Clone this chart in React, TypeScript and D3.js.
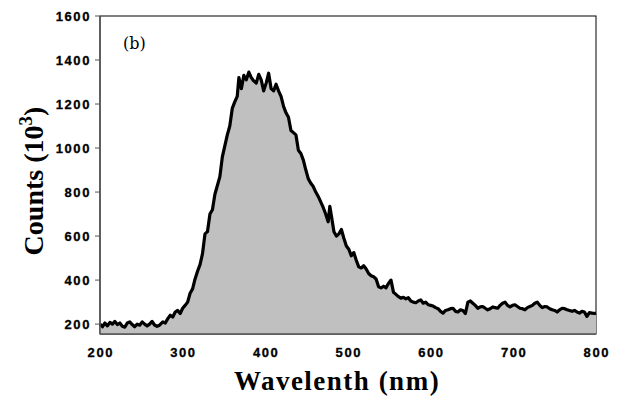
import * as d3 from 'd3';
import React from 'react';

// spectrum
const wavelength = [
  200, 203, 206, 209, 212, 215, 218, 221, 224, 227,
  230, 233, 236, 239, 242, 245, 248, 251, 254, 257,
  260, 263, 266, 269, 272, 276, 279, 282, 285, 288,
  291, 294, 297, 300, 303, 306, 309, 312, 315, 318,
  321, 324, 327, 330, 333, 336, 339, 342, 345, 348,
  351, 354, 357, 360, 363, 366, 368, 371, 374, 377,
  380, 383, 386, 389, 392, 395, 398, 401, 404, 407,
  410, 413, 416, 419, 422, 425, 428, 431, 434, 437,
  440, 443, 446, 449, 452, 455, 458, 461, 464, 467,
  470, 473, 476, 478, 480, 483, 486, 489, 492, 495,
  498, 501, 504, 507, 510, 513, 516, 519, 522, 525,
  528, 531, 534, 537, 540, 543, 546, 549, 552, 555,
  558, 561, 564, 567, 570, 573, 576, 579, 582, 585,
  588, 591, 594, 597, 600, 603, 606, 609, 612, 615,
  618, 621, 624, 627, 630, 633, 636, 639, 642, 645,
  648, 651, 654, 657, 660, 663, 666, 669, 672, 675,
  678, 681, 684, 687, 690, 693, 696, 699, 702, 705,
  708, 711, 714, 717, 720, 723, 726, 729, 732, 735,
  738, 741, 744, 747, 750, 753, 756, 759, 762, 765,
  768, 771, 774, 777, 780, 783, 786, 789, 792, 795,
  798, 800,
];

const counts = [
  200, 188, 205, 192, 208, 200, 212, 198, 205, 190,
  186, 205, 210, 198, 188, 200, 195, 210, 200, 192,
  200, 212, 196, 190, 195, 210, 205, 225, 240, 232,
  255, 262, 248, 272, 285, 300, 340, 360, 405, 440,
  470, 520, 610, 620, 700, 720, 790, 830, 870, 960,
  1010, 1060, 1100, 1180, 1210, 1235, 1320, 1270, 1330, 1310,
  1345, 1320, 1305, 1295, 1335, 1310, 1260, 1295, 1340, 1270,
  1260, 1290, 1260, 1235, 1190, 1160, 1140, 1080, 1070, 1060,
  990, 975, 945, 900, 860, 840, 825, 800, 780, 755,
  730, 700, 665, 735, 690, 620, 600, 610, 630, 590,
  555, 540, 510, 525, 490, 460, 455, 465, 450, 430,
  420, 415, 405, 370, 365, 372, 365, 385, 400, 345,
  335, 325, 318, 322, 315, 320, 305, 300, 297, 305,
  310, 295, 300, 288, 285, 282, 275, 270, 258, 250,
  262, 265, 270, 272, 258, 255, 265, 262, 248, 300,
  305, 295, 285, 272, 278, 280, 272, 265, 270, 278,
  275, 272, 285, 295, 300, 285, 278, 285, 288, 280,
  272, 270, 265, 275, 280, 285, 295, 300, 285, 275,
  280, 278, 270, 265, 262, 255, 265, 272, 270, 265,
  262, 258, 262, 255, 250, 258, 255, 235, 252, 250,
  248, 250,
];

const xTicks = [200, 300, 400, 500, 600, 700, 800];
const yTicks = [200, 400, 600, 800, 1000, 1200, 1400, 1600];

const App = () => {
  const width = 622;
  const height = 398;
  const margin = { top: 16, right: 26, bottom: 64, left: 100 };
  const yMin = 155;

  const x = d3.scaleLinear().domain([200, 800]).range([margin.left, width - margin.right]);
  const y = d3.scaleLinear().domain([yMin, 1600]).range([height - margin.bottom, margin.top]);

  const pts = wavelength.map((w, i) => [w, counts[i]] as [number, number]);

  const area = d3.area<[number, number]>()
    .x(d => x(d[0]))
    .y0(y(yMin))
    .y1(d => y(d[1]));
  const line = d3.line<[number, number]>()
    .x(d => x(d[0]))
    .y(d => y(d[1]));

  const left = margin.left;
  const right = width - margin.right;
  const top = margin.top;
  const bottom = height - margin.bottom;

  return (
    <div>
      <svg width={width} height={height} style={{ position: 'absolute', left: 0, top: 0, background: '#fff' }}>
        <rect x={left} y={top} width={right - left} height={bottom - top} fill="#fff" stroke="#000" strokeWidth={1} />
        <path d={area(pts) || ''} fill="#c0c0c0" />
        <path d={line(pts) || ''} fill="none" stroke="#000" strokeWidth={3.2} strokeLinejoin="round" />

        {/* axes */}
        <line x1={left} x2={left} y1={top} y2={bottom} stroke="#555" strokeWidth={1.5} />
        <line x1={left} x2={right} y1={bottom} y2={bottom} stroke="#555" strokeWidth={1.5} />

        {yTicks.map(t => (
          <g key={t}>
            <line x1={left - 5} x2={left} y1={y(t)} y2={y(t)} stroke="#555" strokeWidth={1} />
            <text x={left - 9} y={y(t)} dy="0.36em" textAnchor="end"
              fontFamily="'Liberation Sans', Arial, sans-serif" fontWeight="bold" fontSize={13} letterSpacing={1.6}
              stroke="#000" strokeWidth={0.3}>
              {t}
            </text>
          </g>
        ))}
        {xTicks.map(t => (
          <text key={t} x={x(t) + 0.8} y={357} textAnchor="middle"
            fontFamily="'Liberation Sans', Arial, sans-serif" fontWeight="bold" fontSize={13} letterSpacing={1.6}
            stroke="#000" strokeWidth={0.3}>
            {t}
          </text>
        ))}

        <text x={123} y={49} fontFamily="'DejaVu Serif', serif" fontSize={16}>(b)</text>

        <text x={337} y={390} textAnchor="middle" fontFamily="'Liberation Serif', 'Times New Roman', serif"
          fontWeight="bold" fontSize={27} letterSpacing={1.5}>
          Wavelenth (nm)
        </text>
        <text transform={`translate(43,${181}) rotate(-90)`} textAnchor="middle"
          fontFamily="'Liberation Serif', 'Times New Roman', serif" fontWeight="bold" fontSize={28}>
          Counts (10<tspan fontSize={19} dy={-11}>3</tspan><tspan dy={11}>)</tspan>
        </text>
      </svg>
    </div>
  );
};

export default App;
